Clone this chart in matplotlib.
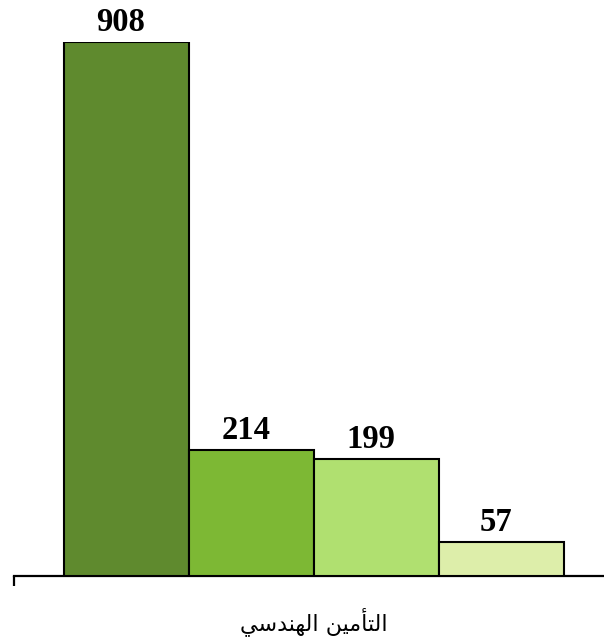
import matplotlib
matplotlib.use("Agg")
import matplotlib.pyplot as plt

# Data
category = "التأمين الهندسي"
values = [908, 214, 199, 57]
colors = ["#5f8a2e", "#7db834", "#b0e070", "#ddeeaa"]

# Pre-shaped presentation forms (visual order) of the category label, since
# matplotlib does not perform Arabic shaping / bidi.
def shape_label():
    w1 = ["\uFE8D", "\uFEDF", "\uFE98", "\uFE84", "\uFEE3", "\uFEF4", "\uFEE6"]  # التأمين
    w2 = ["\uFE8D", "\uFEDF", "\uFEEC", "\uFEE8", "\uFEAA", "\uFEB3", "\uFEF2"]  # الهندسي
    logical = w1 + [" "] + w2
    return "".join(reversed(logical))

W, H = 604, 638
dpi = 100
fig = plt.figure(figsize=(W / dpi, H / dpi), dpi=dpi)

left_px, right_px = 14, 614
base_px, top_px = 576, 42
ax = fig.add_axes([left_px / W, (H - base_px) / H,
                   (right_px - left_px) / W, (base_px - top_px) / H])

x = list(range(len(values)))
ax.bar(x, values, width=1.0, color=colors, edgecolor="black", linewidth=1.5,
       zorder=3)
ax.set_xlim(-0.9, 3.9)
ax.set_ylim(0, values[0])

for xi, v in zip(x, values):
    ax.annotate(f"{v}", (xi, v), xytext=(-4, 3), textcoords="offset points",
                ha="center", va="bottom", fontsize=23.5, fontweight="bold",
                family="Liberation Serif", annotation_clip=False)

for s in ["top", "right", "left"]:
    ax.spines[s].set_visible(False)
ax.spines["bottom"].set_linewidth(1.6)
ax.set_yticks([])
ax.set_xticks([-0.9, 3.9])
ax.set_xticklabels(["", ""])
ax.tick_params(axis="x", direction="out", length=7.5, width=1.6)

fig.text(314 / W, 1 - 622 / H, shape_label(), ha="center", va="center",
         fontsize=16, family="DejaVu Sans")

fig.savefig("out.png", dpi=dpi)
